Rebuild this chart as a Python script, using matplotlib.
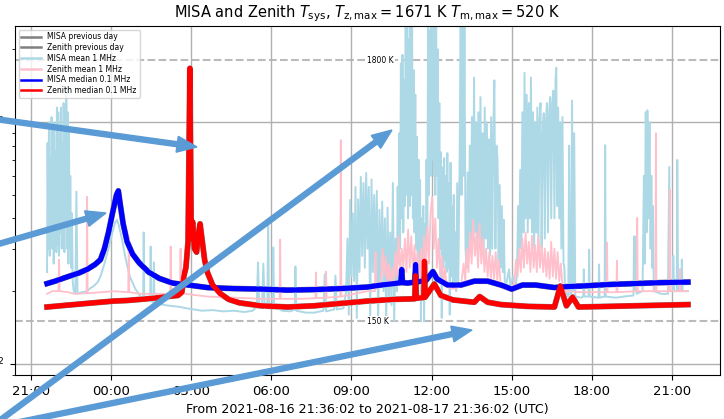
import numpy as np
import pandas as pd
import matplotlib
matplotlib.use("Agg")
import matplotlib.pyplot as plt
import matplotlib.dates as mdates
from matplotlib.patches import FancyArrow
from matplotlib.transforms import IdentityTransform
from matplotlib.ticker import NullFormatter

START = pd.Timestamp("2021-08-16 21:36:02")
END = pd.Timestamp("2021-08-17 21:36:02")
TZ_MAX = 1671
TM_MAX = 520

# MISA median 0.1 MHz: (hours since START, K)
misa_median = [
    (0.0, 215), (0.3, 220), (0.6, 226), (0.9, 232), (1.2, 238), (1.5, 246),
    (1.8, 258), (2.0, 270), (2.15, 300), (2.3, 350), (2.45, 420), (2.6, 500),
    (2.67, 520), (2.75, 450), (2.85, 380), (3.0, 320), (3.2, 285), (3.45, 262),
    (3.8, 240), (4.2, 226), (4.7, 216), (5.3, 212), (6.0, 207), (7.0, 205),
    (8.0, 204), (9.0, 202), (10.0, 203), (11.0, 205), (12.0, 208), (12.5, 212),
    (13.0, 215), (13.25, 217), (13.28, 246), (13.31, 217), (13.5, 216),
    (13.77, 218), (13.8, 258), (13.83, 218), (14.2, 222), (14.45, 241),
    (14.6, 225), (15.0, 212), (15.5, 212), (16.0, 220), (16.5, 220),
    (17.0, 212), (17.4, 204), (17.8, 212), (18.3, 212), (19.0, 207),
    (19.5, 209), (20.0, 210), (21.0, 213), (22.0, 215), (23.0, 217), (24.0, 218),
]

# Zenith median 0.1 MHz
zenith_median = [
    (0.0, 172), (0.5, 174), (1.0, 176), (1.5, 178), (2.0, 180), (2.5, 182),
    (3.0, 183), (3.5, 185), (4.0, 187), (4.5, 190), (4.9, 192), (5.05, 198),
    (5.12, 230), (5.2, 250), (5.28, 320), (5.35, TZ_MAX), (5.4, 330),
    (5.45, 387), (5.52, 300), (5.6, 290), (5.66, 340), (5.73, 380), (5.8, 330),
    (5.9, 270), (6.0, 240), (6.2, 212), (6.5, 195), (6.8, 185), (7.2, 179),
    (8.0, 174), (9.0, 172), (10.0, 174), (11.0, 178), (12.0, 182), (13.0, 185),
    (13.77, 186), (13.8, 232), (13.83, 187), (14.1, 188), (14.13, 266),
    (14.16, 189), (14.5, 214), (14.75, 192), (15.2, 184), (16.0, 180),
    (16.2, 190), (16.5, 180), (17.0, 176), (18.0, 173), (19.0, 172),
    (19.22, 210), (19.45, 174), (19.68, 189), (19.9, 172), (21.0, 173),
    (22.0, 174), (23.0, 175), (24.0, 176),
]

# MISA mean 1 MHz
misa_mean = [
    (0.00, 240), (0.02, 820), (0.05, 300), (0.07, 1000), (0.10, 280), (0.12, 700),
    (0.15, 320), (0.17, 1050), (0.20, 300), (0.22, 880), (0.25, 260), (0.27, 1000),
    (0.30, 330), (0.32, 760), (0.35, 290), (0.37, 1150), (0.40, 310), (0.42, 1100),
    (0.45, 280), (0.47, 900), (0.50, 350), (0.52, 1150), (0.55, 300), (0.57, 820),
    (0.60, 330), (0.62, 1200), (0.65, 290), (0.67, 1000), (0.70, 380), (0.72, 1390),
    (0.75, 300), (0.77, 1100), (0.80, 260), (0.82, 900), (0.85, 300), (0.87, 600),
    (0.90, 250), (0.93, 420), (0.96, 220),
    (1.00, 200), (1.06, 195), (1.10, 516), (1.14, 195), (1.3, 198), (1.5, 200),
    (1.6, 205), (1.75, 210), (1.9, 218), (2.0, 230), (2.15, 260), (2.3, 300),
    (2.45, 350), (2.55, 385), (2.62, 395), (2.7, 370), (2.8, 330), (2.95, 270),
    (3.1, 230), (3.3, 205), (3.5, 190), (3.60, 188), (3.62, 350), (3.64, 186),
    (3.86, 182), (3.88, 306), (3.9, 182), (3.98, 180), (4.0, 263), (4.02, 180),
    (4.3, 176), (4.6, 174), (5.0, 172),
    (5.2, 170), (5.5, 168), (5.8, 166), (6.2, 167), (6.6, 165), (7.0, 166),
    (7.4, 164), (7.7, 166), (7.85, 172), (7.9, 263), (7.95, 170), (8.05, 172),
    (8.1, 260), (8.15, 170), (8.25, 175), (8.28, 387), (8.31, 175), (8.45, 176),
    (8.47, 303), (8.5, 174), (8.8, 166), (9.1, 165), (9.28, 168), (9.3, 253),
    (9.33, 166), (9.7, 163), (10.0, 163), (10.35, 166), (10.4, 235), (10.45, 165),
    (10.75, 168), (10.8, 232), (10.85, 168), (11.1, 170),
    (11.20, 200), (11.25, 330), (11.30, 160), (11.35, 477), (11.40, 230),
    (11.45, 420), (11.50, 220), (11.55, 540), (11.60, 155), (11.65, 480),
    (11.70, 240), (11.75, 594), (11.80, 280), (11.85, 560), (11.90, 250),
    (11.95, 617), (12.00, 300), (12.05, 540), (12.10, 150), (12.15, 580),
    (12.20, 240), (12.25, 500), (12.30, 230), (12.35, 520), (12.40, 150),
    (12.45, 434), (12.50, 210), (12.55, 470), (12.60, 200), (12.65, 400),
    (12.70, 148), (12.75, 443), (12.80, 180), (12.85, 350), (12.90, 175),
    (12.95, 561), (13.00, 150), (13.05, 330), (13.10, 200),
    (13.13, 541), (13.16, 260), (13.19, 900), (13.22, 300), (13.25, 1750),
    (13.28, 400), (13.31, 1900), (13.34, 350), (13.37, 1500), (13.40, 450),
    (13.43, 3000), (13.46, 500), (13.49, 3000), (13.52, 400), (13.55, 2200),
    (13.58, 450), (13.61, 3000), (13.64, 500), (13.67, 2500), (13.70, 400),
    (13.73, 1640), (13.76, 350), (13.79, 1300), (13.82, 300), (13.85, 870),
    (13.88, 260), (13.91, 700), (13.94, 240), (13.97, 577), (14.00, 150),
    (14.03, 400), (14.06, 230), (14.09, 450), (14.12, 150), (14.15, 380),
    (14.18, 240), (14.21, 700), (14.24, 300), (14.27, 3000), (14.30, 500),
    (14.33, 2400), (14.36, 600), (14.39, 3000), (14.42, 700), (14.45, 3000),
    (14.48, 600), (14.51, 3000), (14.54, 500), (14.57, 3000), (14.60, 600),
    (14.63, 2000), (14.66, 400), (14.69, 1200), (14.72, 300), (14.75, 750),
    (14.78, 155), (14.81, 650), (14.84, 250), (14.87, 710), (14.90, 270),
    (14.93, 600), (14.96, 240), (14.99, 745), (15.02, 250), (15.05, 560),
    (15.08, 160), (15.11, 680), (15.14, 230), (15.17, 450), (15.20, 220),
    (15.23, 500), (15.26, 210), (15.29, 350), (15.32, 200), (15.36, 560),
    (15.40, 220), (15.45, 700), (15.49, 3000), (15.52, 500), (15.56, 3000),
    (15.60, 600), (15.63, 2500), (15.67, 300),
    (15.71, 250), (15.75, 620), (15.79, 280), (15.83, 800), (15.87, 300),
    (15.91, 1050), (15.95, 320), (15.99, 1530), (16.03, 350), (16.07, 1000),
    (16.11, 300), (16.15, 1100), (16.19, 330), (16.23, 1270), (16.27, 300),
    (16.31, 900), (16.35, 280), (16.39, 1150), (16.43, 330), (16.47, 1000),
    (16.51, 300), (16.55, 850), (16.59, 280), (16.63, 1050), (16.67, 300),
    (16.71, 900), (16.75, 1490), (16.79, 300), (16.83, 800), (16.87, 700),
    (16.91, 260), (16.95, 550), (16.99, 250), (17.03, 450), (17.07, 240),
    (17.10, 395), (17.14, 220), (17.2, 215), (17.3, 246), (17.35, 210),
    (17.45, 230), (17.55, 205),
    (17.60, 240), (17.64, 450), (17.68, 260), (17.72, 635), (17.76, 300),
    (17.80, 1100), (17.84, 350), (17.88, 1600), (17.92, 400), (17.96, 1300),
    (18.00, 350), (18.04, 1200), (18.08, 400), (18.12, 1530), (18.16, 350),
    (18.20, 1100), (18.24, 300), (18.28, 1000), (18.32, 350), (18.36, 1150),
    (18.40, 300), (18.44, 1020), (18.48, 1200), (18.52, 300), (18.56, 900),
    (18.60, 1090), (18.64, 330), (18.68, 1000), (18.72, 1200), (18.76, 350),
    (18.80, 1100), (18.84, 1270), (18.88, 400), (18.92, 1200), (18.96, 1350),
    (19.00, 400), (19.04, 1500), (19.07, 1680), (19.10, 450), (19.14, 1150),
    (19.18, 400), (19.22, 1000), (19.26, 300), (19.30, 1050), (19.34, 260),
    (19.37, 253), (19.40, 200),
    (19.45, 195), (19.52, 190), (19.55, 800), (19.58, 200), (19.62, 190),
    (19.66, 1230), (19.70, 200), (19.74, 900), (19.78, 190), (20.0, 188),
    (20.08, 190), (20.1, 246), (20.12, 190), (20.28, 190), (20.3, 297),
    (20.32, 190), (20.65, 188), (20.67, 258), (20.69, 188), (20.88, 190),
    (20.9, 804), (20.92, 190), (21.3, 188), (21.6, 190), (21.96, 192),
    (21.98, 337), (22.01, 200), (22.05, 337), (22.08, 195), (22.3, 200),
    (22.35, 600), (22.38, 260), (22.42, 1100), (22.45, 350), (22.48, 1120),
    (22.52, 400), (22.56, 1000), (22.60, 300), (22.63, 600), (22.66, 250),
    (22.69, 450), (22.72, 200), (23.0, 195), (23.25, 195), (23.3, 653),
    (23.33, 200), (23.43, 200), (23.45, 280), (23.48, 200), (23.58, 200),
    (23.6, 698), (23.63, 200), (23.75, 200), (23.77, 270), (23.8, 200), (24.0, 200),
]

# Zenith mean 1 MHz
zenith_mean = [
    (0.00, 195), (0.2, 200), (0.43, 200), (0.45, 270), (0.47, 200), (0.8, 198),
    (1.0, 195), (1.48, 196), (1.5, 491), (1.52, 196), (2.0, 198), (2.5, 200),
    (3.04, 198), (3.06, 336), (3.08, 198), (3.5, 195), (4.0, 195), (4.61, 195),
    (4.63, 306), (4.65, 195), (4.98, 196), (5.0, 300), (5.02, 196), (6.0, 190),
    (7.0, 188), (8.0, 186), (8.71, 186), (8.73, 327), (8.75, 186), (9.5, 186),
    (10.05, 187), (10.07, 239), (10.09, 187), (10.43, 188), (10.45, 241),
    (10.47, 188), (10.98, 190), (11.0, 843), (11.02, 190), (11.5, 195),
    (12.0, 200), (12.28, 200), (12.3, 290), (12.33, 205),
    (12.5, 220), (12.56, 300), (12.62, 230), (12.68, 280), (12.74, 220),
    (12.8, 260), (12.86, 210), (12.92, 250), (12.98, 215), (13.04, 290),
    (13.1, 230), (13.16, 337), (13.22, 240), (13.28, 300), (13.34, 250),
    (13.4, 330), (13.46, 240), (13.52, 360), (13.58, 250), (13.64, 337),
    (13.7, 240), (13.76, 310), (13.82, 230), (13.88, 290), (13.94, 220),
    (14.0, 300), (14.06, 230), (14.12, 340), (14.18, 250), (14.24, 370),
    (14.3, 260), (14.36, 420), (14.42, 491), (14.48, 300), (14.54, 400),
    (14.6, 250), (14.66, 330), (14.72, 230), (14.78, 280), (14.84, 215),
    (14.9, 250), (14.96, 210), (15.1, 205), (15.3, 205),
    (15.5, 210), (15.6, 260), (15.66, 220), (15.72, 300), (15.78, 240),
    (15.84, 350), (15.9, 260), (15.96, 395), (16.02, 280), (16.08, 350),
    (16.14, 250), (16.2, 380), (16.26, 260), (16.32, 330), (16.38, 240),
    (16.44, 300), (16.5, 230), (16.56, 290), (16.62, 225), (16.68, 280),
    (16.74, 225), (16.8, 290), (16.86, 220), (16.92, 270), (16.98, 215),
    (17.1, 205), (17.3, 205),
    (17.5, 215), (17.56, 270), (17.62, 230), (17.68, 300), (17.74, 240),
    (17.8, 330), (17.86, 250), (17.92, 350), (17.98, 260), (18.04, 320),
    (18.1, 240), (18.16, 340), (18.22, 250), (18.28, 310), (18.34, 240),
    (18.4, 337), (18.46, 250), (18.52, 310), (18.58, 240), (18.64, 300),
    (18.7, 230), (18.76, 290), (18.82, 225), (18.88, 320), (18.94, 230),
    (19.0, 300), (19.06, 225), (19.12, 290), (19.18, 220), (19.24, 260),
    (19.3, 210), (19.4, 200),
    (20.0, 198), (20.95, 198), (20.97, 318), (20.99, 198), (21.32, 198),
    (21.34, 267), (21.36, 198), (22.08, 200), (22.1, 402), (22.12, 200),
    (22.78, 200), (22.8, 900), (22.82, 200), (23.3, 200), (23.32, 525),
    (23.34, 200), (23.68, 200), (23.7, 247), (23.72, 200), (24.0, 200),
]

# previous-day curves sit right underneath today's medians
misa_prev = list(misa_median)
zenith_prev = list(zenith_median)

REF_LEVELS = [1800, 150]


def split(series):
    hours, kelvin = zip(*series)
    times = START + pd.to_timedelta(np.asarray(hours), unit="h")
    return times, np.asarray(kelvin)


fig = plt.figure(figsize=(7.24, 4.19), dpi=100)
ax = fig.add_axes([15 / 724, 1 - 375 / 419, 705 / 724, 349 / 419])

t, k = split(misa_prev)
ax.plot(t, k, color="gray", lw=4.2, label="MISA previous day")
t, k = split(zenith_prev)
ax.plot(t, k, color="gray", lw=4.2, label="Zenith previous day")
t, k = split(misa_mean)
ax.plot(t, k, color="lightblue", lw=1.4, label="MISA mean 1 MHz")
t, k = split(zenith_mean)
ax.plot(t, k, color="pink", lw=1.3, label="Zenith mean 1 MHz")
t, k = split(misa_median)
ax.plot(t, k, color="blue", lw=3.7, label="MISA median 0.1 MHz")
t, k = split(zenith_median)
ax.plot(t, k, color="red", lw=3.7, label="Zenith median 0.1 MHz")

mid = START + (END - START) / 2
for level in REF_LEVELS:
    ax.axhline(level, color="#bbbbbb", ls="--", lw=1.5, zorder=0.5)
    ax.text(mid, level, f"{level} K", fontsize=5.5, ha="left", va="center",
            bbox=dict(facecolor="white", edgecolor="none", pad=0.5))

ax.set_yscale("log")
ax.set_ylim(90, 2500)
ax.yaxis.set_minor_formatter(NullFormatter())
ax.set_xlim(START - pd.Timedelta(hours=1.2), END + pd.Timedelta(hours=1.2))
ax.xaxis.set_major_locator(mdates.HourLocator(byhour=range(0, 24, 3)))
ax.xaxis.set_major_formatter(mdates.DateFormatter("%H:%M"))
ax.tick_params(labelsize=9.5)
ax.grid(True, which="major", color="#b0b0b0", lw=1)

ax.set_title(r"MISA and Zenith $T_{\rm sys}$, $T_{\rm z,max} = %d$ K $T_{\rm m,max} = %d$ K"
             % (TZ_MAX, TM_MAX), fontsize=10.5)
ax.set_xlabel("From %s to %s (UTC)" % (START, END), fontsize=9.1)

leg = ax.legend(loc="upper left", fontsize=5.5, labelspacing=0.22,
                borderpad=0.35, handlelength=2.6)
for line in leg.get_lines():
    line.set_linewidth(1.8)

# callout arrows, in output pixels (origin top-left)
arrows = [((-5, 119), (197, 147)), ((-5, 245), (106, 213)),
          ((-5, 424), (392, 130)), ((-5, 427), (472, 330))]
H = 419
for (x0, y0), (x1, y1) in arrows:
    fig.add_artist(FancyArrow(x0, H - y0, x1 - x0, y0 - y1, width=5,
                              head_width=16, head_length=20,
                              length_includes_head=True, color="#5b9bd5",
                              transform=IdentityTransform(), zorder=10))

fig.savefig("out.png", dpi=100)
